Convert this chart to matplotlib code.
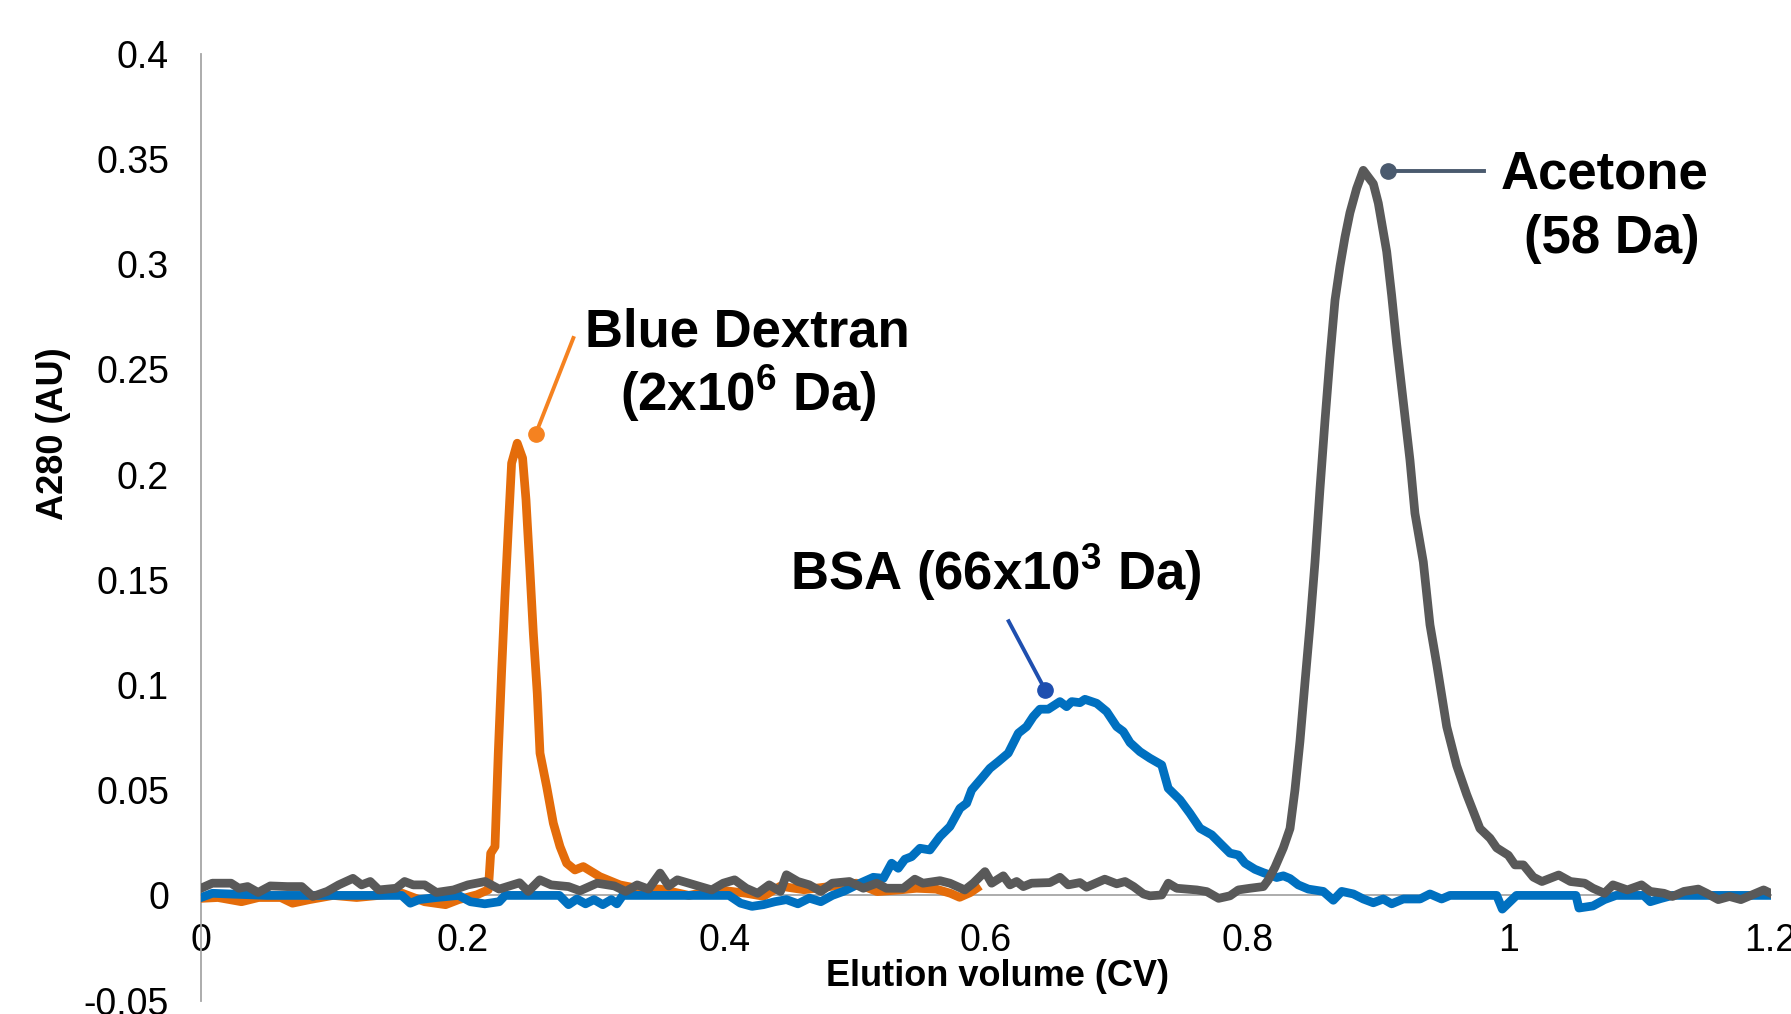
import matplotlib
matplotlib.use("Agg")
import matplotlib.pyplot as plt

plt.rcParams["font.family"] = ["Liberation Sans", "DejaVu Sans"]
plt.rcParams["mathtext.fontset"] = "custom"
plt.rcParams["mathtext.rm"] = "Liberation Sans:bold"
plt.rcParams["mathtext.bf"] = "Liberation Sans:bold"

# --- data (elution volume in CV, A280 in AU) ---
dextran_cv = [0, 0.013, 0.031, 0.044, 0.061, 0.070, 0.083, 0.101, 0.119, 0.136,
              0.154, 0.171, 0.187, 0.197, 0.211, 0.2197, 0.2215, 0.2248, 0.2273, 0.2299,
              0.2324, 0.2350, 0.2375, 0.2418, 0.2459, 0.2485, 0.2515, 0.2541, 0.2571, 0.2592,
              0.2643, 0.2694, 0.2745, 0.2796, 0.2859, 0.2923, 0.3050, 0.3203, 0.3331, 0.351,
              0.373, 0.395, 0.417, 0.430, 0.443, 0.461, 0.483, 0.501, 0.517, 0.534,
              0.547, 0.562, 0.573, 0.580, 0.588, 0.593]
dextran_a280 = [-0.0014, -0.001, -0.003, -0.001, -0.001, -0.0037, -0.002, 0.0, -0.001, 0.0,
                0.001, -0.003, -0.0044, -0.002, 0.0003, 0.0027, 0.020, 0.0232, 0.0676, 0.107,
                0.142, 0.175, 0.2054, 0.2149, 0.2078, 0.188, 0.1547, 0.1246, 0.0961, 0.0676,
                0.0517, 0.0343, 0.0232, 0.0153, 0.0121, 0.0137, 0.0089, 0.005, 0.0034, 0.003,
                0.0, 0.0027, 0.001, -0.0004, 0.0044, 0.0027, 0.0044, 0.0058, 0.0018, 0.0026,
                0.0034, 0.003, 0.001, -0.0009, 0.0013, 0.0034]

bsa_cv = [0, 0.0087, 0.05, 0.10, 0.1535, 0.160, 0.1667, 0.180, 0.197, 0.206,
          0.217, 0.228, 0.2325, 0.274, 0.281, 0.2874, 0.294, 0.3005, 0.3072, 0.3137,
          0.318, 0.3225, 0.4037, 0.4125, 0.4213, 0.430, 0.4388, 0.4476, 0.4564, 0.4651,
          0.4739, 0.4827, 0.4915, 0.5046, 0.514, 0.5217, 0.528, 0.5331, 0.5382, 0.5433,
          0.5497, 0.5573, 0.565, 0.5726, 0.5803, 0.5854, 0.5892, 0.5969, 0.6032, 0.6096,
          0.6172, 0.6210, 0.6249, 0.6312, 0.6363, 0.6414, 0.6478, 0.6567, 0.6618, 0.6657,
          0.672, 0.6758, 0.6848, 0.6924, 0.7001, 0.7051, 0.7103, 0.7179, 0.7255, 0.7345,
          0.7395, 0.7485, 0.7561, 0.7638, 0.7727, 0.7791, 0.7867, 0.7931, 0.7982, 0.8058,
          0.8122, 0.8173, 0.8224, 0.8275, 0.8326, 0.8389, 0.8466, 0.858, 0.8657, 0.8721,
          0.881, 0.8886, 0.8963, 0.9039, 0.9103, 0.9192, 0.932, 0.9396, 0.9485, 0.9549,
          0.9906, 0.9949, 1.0057, 1.0512, 1.0535, 1.0642, 1.073, 1.0818, 1.103, 1.108,
          1.116, 1.125, 1.2]
bsa_a280 = [-0.001, 0.001, 0.0, 0.0, 0.0, -0.0037, -0.002, -0.001, 0.0, -0.003,
            -0.004, -0.003, 0.0, 0.0, -0.0044, -0.0017, -0.004, -0.002, -0.0044, -0.002,
            -0.004, 0.0, 0.0, -0.0037, -0.0052, -0.0044, -0.003, -0.002, -0.004, -0.0013,
            -0.003, 0.0, 0.002, 0.006, 0.0086, 0.0081, 0.0153, 0.0129, 0.0172, 0.0184,
            0.0224, 0.0216, 0.028, 0.0327, 0.0414, 0.0438, 0.0501, 0.0557, 0.0604, 0.0636,
            0.0676, 0.0723, 0.0771, 0.0802, 0.085, 0.0885, 0.0885, 0.0921, 0.0897, 0.0921,
            0.0916, 0.0932, 0.0913, 0.0874, 0.0802, 0.0779, 0.0726, 0.0683, 0.0652, 0.062,
            0.0509, 0.0454, 0.039, 0.0319, 0.0288, 0.0248, 0.0201, 0.0192, 0.0153, 0.0124,
            0.0108, 0.0097, 0.0085, 0.0093, 0.0080, 0.0050, 0.003, 0.0019, -0.0023, 0.0019,
            0.0007, -0.0017, -0.0035, -0.0017, -0.004, -0.0017, -0.0017, 0.0007, -0.0017, 0.0,
            0.0, -0.0065, 0.0, 0.0, -0.006, -0.005, -0.002, 0.0, 0.0, -0.003,
            -0.0015, 0.0, 0.0]

acetone_cv = [0, 0.0087, 0.023, 0.029, 0.0357, 0.0437, 0.053, 0.066, 0.077, 0.0855,
              0.0965, 0.1053, 0.1162, 0.1228, 0.1294, 0.136, 0.1492, 0.1557, 0.1623, 0.171,
              0.18, 0.1931, 0.2041, 0.2172, 0.228, 0.2436, 0.2502, 0.259, 0.2677, 0.281,
              0.2897, 0.3028, 0.316, 0.3247, 0.3335, 0.3422, 0.351, 0.3576, 0.3642, 0.373,
              0.3818, 0.3905, 0.3993, 0.408, 0.4168, 0.4256, 0.4344, 0.443, 0.4476, 0.4564,
              0.4651, 0.4739, 0.4827, 0.4958, 0.5064, 0.5166, 0.524, 0.537, 0.5458, 0.552,
              0.565, 0.5726, 0.584, 0.5905, 0.5994, 0.6045, 0.6134, 0.6185, 0.6236, 0.6287,
              0.635, 0.649, 0.6567, 0.663, 0.672, 0.677, 0.691, 0.7001, 0.7065, 0.713,
              0.7205, 0.7255, 0.7345, 0.7395, 0.746, 0.7613, 0.769, 0.778, 0.7867, 0.7931,
              0.802, 0.8122, 0.816, 0.8211, 0.8275, 0.8326, 0.8364, 0.8402, 0.844, 0.8479,
              0.8517, 0.8555, 0.8593, 0.8631, 0.867, 0.8708, 0.8746, 0.8784, 0.8835, 0.8886,
              0.8963, 0.9001, 0.9065, 0.9103, 0.9141, 0.9192, 0.9243, 0.9281, 0.9345, 0.9396,
              0.9447, 0.9524, 0.96, 0.9677, 0.9778, 0.9855, 0.9906, 0.9995, 1.0046, 1.011,
              1.0186, 1.0252, 1.038, 1.047, 1.0579, 1.0642, 1.073, 1.0795, 1.0905, 1.1013,
              1.108, 1.1185, 1.125, 1.1338, 1.1447, 1.1512, 1.16, 1.1686, 1.1773, 1.186,
              1.1947, 1.2]
acetone_a280 = [0.0034, 0.0058, 0.0058, 0.0034, 0.0042, 0.0014, 0.0045, 0.0042, 0.0042, -0.0005,
                0.0019, 0.005, 0.0081, 0.005, 0.0066, 0.0026, 0.0034, 0.0066, 0.005, 0.005,
                0.0014, 0.0026, 0.005, 0.0066, 0.003, 0.006, 0.0019, 0.0074, 0.005, 0.0042,
                0.0022, 0.0058, 0.0045, 0.0019, 0.005, 0.003, 0.0106, 0.0045, 0.0074, 0.0058,
                0.0042, 0.0026, 0.0058, 0.0074, 0.0034, 0.001, 0.005, 0.0019, 0.0098, 0.0066,
                0.005, 0.0019, 0.0058, 0.0066, 0.0034, 0.0058, 0.0034, 0.0034, 0.0077, 0.0058,
                0.0070, 0.0058, 0.0026, 0.0058, 0.0113, 0.0058, 0.0093, 0.005, 0.0066, 0.0042,
                0.0058, 0.0061, 0.0086, 0.005, 0.0061, 0.0039, 0.0077, 0.0055, 0.0066, 0.0042,
                0.0007, -0.0002, 0.0002, 0.0058, 0.0034, 0.0026, 0.0018, -0.0014, -0.0002, 0.0026,
                0.0034, 0.0042, 0.0074, 0.0134, 0.0226, 0.0318, 0.0502, 0.0732, 0.1009, 0.1286,
                0.1585, 0.1931, 0.2253, 0.2553, 0.2829, 0.299, 0.3128, 0.3244, 0.3359, 0.3446,
                0.3382, 0.329, 0.306, 0.2852, 0.2622, 0.2346, 0.2069, 0.1816, 0.1585, 0.1286,
                0.1101, 0.0802, 0.0617, 0.0479, 0.0318, 0.0272, 0.0226, 0.0191, 0.0145, 0.0145,
                0.0087, 0.0066, 0.0097, 0.0066, 0.0058, 0.0034, 0.001, 0.005, 0.0026, 0.005,
                0.0019, 0.001, -0.0005, 0.0019, 0.003, 0.001, -0.002, -0.0005, -0.002, 0.0003,
                0.0026, 0.001]

x_ticks = [0, 0.2, 0.4, 0.6, 0.8, 1.0, 1.2]
x_tick_labels = ["0", "0.2", "0.4", "0.6", "0.8", "1", "1.2"]
y_ticks = [-0.05, 0, 0.05, 0.1, 0.15, 0.2, 0.25, 0.3, 0.35, 0.4]
y_tick_labels = ["-0.05", "0", "0.05", "0.1", "0.15", "0.2", "0.25", "0.3", "0.35", "0.4"]

ORANGE = "#E46C0A"
BLUE = "#0070C0"
GREY = "#595959"
AXIS_GREY = "#A6A6A6"

fig = plt.figure(figsize=(17.91, 10.14), dpi=100)
ax = fig.add_axes([0.1122, 0.0132, 0.8764, 0.9338])

ax.plot(dextran_cv, dextran_a280, color=ORANGE, lw=6.3, solid_joinstyle="round", zorder=3)
ax.plot(bsa_cv, bsa_a280, color=BLUE, lw=6.3, solid_joinstyle="round", zorder=4)
ax.plot(acetone_cv, acetone_a280, color=GREY, lw=6.3, solid_joinstyle="round", zorder=5)

ax.set_xlim(0, 1.2)
ax.set_ylim(-0.05, 0.4)
ax.set_xticks(x_ticks)
ax.set_xticklabels(x_tick_labels)
ax.set_yticks(y_ticks)
ax.set_yticklabels(y_tick_labels)
ax.tick_params(axis="both", length=0, labelsize=27, colors="black")
ax.tick_params(axis="x", pad=20)
ax.tick_params(axis="y", pad=23)

for side in ("top", "right"):
    ax.spines[side].set_visible(False)
ax.spines["bottom"].set_position(("data", 0))
ax.spines["bottom"].set_color(AXIS_GREY)
ax.spines["bottom"].set_linewidth(1.3)
ax.spines["left"].set_color(AXIS_GREY)
ax.spines["left"].set_linewidth(1.3)
ax.spines["bottom"].set_zorder(1)

fig.text(53.7 / 1791, 1 - 434 / 1014, "A280 (AU)", rotation=90, ha="center", va="center",
         fontsize=26, fontweight="bold")
fig.text(998 / 1791, 1 - 977 / 1014, "Elution volume (CV)", ha="center", va="center",
         fontsize=26, fontweight="bold")

# peak labels with leader lines
lab = dict(ha="center", va="baseline", fontsize=38, fontweight="bold", zorder=6)
ax.text(0.418, 0.2611, "Blue Dextran", **lab)
ax.text(0.418, 0.2302, r"(2x10$^{\mathrm{6}}$ Da)", **lab)
ax.plot([0.2847, 0.2559], [0.2649, 0.2193], color="#F58220", lw=2.8, zorder=6)
ax.plot([0.2559], [0.2193], "o", color="#F58220", ms=11, zorder=6)

ax.text(0.6074, 0.1450, r"BSA (66x10$^{\mathrm{3}}$ Da)", **lab)
ax.plot([0.6175, 0.6454], [0.1303, 0.0977], color="#1F4FAF", lw=2.8, zorder=6)
ax.plot([0.6454], [0.0977], "o", color="#1F4FAF", ms=11, zorder=6)

ax.text(1.0733, 0.3361, "Acetone", **lab)
ax.text(1.0786, 0.3055, "(58 Da)", **lab)
ax.plot([0.9074, 0.9807], [0.3442, 0.3442], color="#4A5A6E", lw=2.8, zorder=6)
ax.plot([0.9074], [0.3442], "o", color="#4A5A6E", ms=11, zorder=6)

fig.savefig("out.png", dpi=100)
